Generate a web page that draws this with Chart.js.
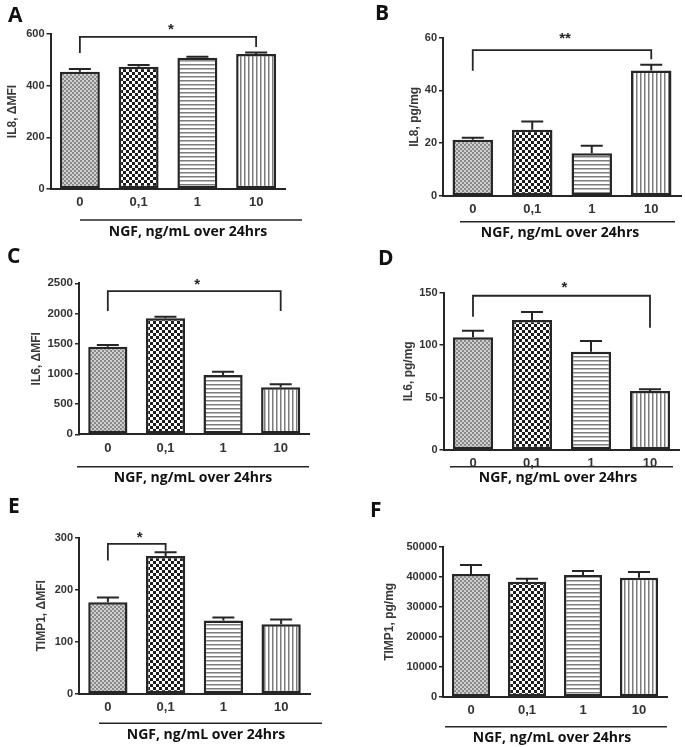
<!DOCTYPE html>
<html>
<head>
<meta charset="utf-8">
<script src="https://cdn.jsdelivr.net/npm/chart.js@4.4.1/dist/chart.umd.min.js"></script>
<style>
  body { margin: 0; background: #fff; }
  #wrap { position: relative; width: 685px; height: 747px; }
  #wrap canvas { position: absolute; left: 0; top: 0; }
</style>
</head>
<body>
<div id="wrap"></div>
<script>
// NGF doses (x categories)
const doses = ["0", "0,1", "1", "10"];

// bar means and SEM (upper error only)
const il8Mfi = [454, 473, 508, 523];
const il8MfiErr = [11, 7, 4, 5];
const il8Pg = [21.3, 25.1, 16.2, 47.6];
const il8PgErr = [0.8, 3.1, 2.8, 2.1];
const il6Mfi = [1450, 1921, 982, 778];
const il6MfiErr = [28, 26, 55, 50];
const il6Pg = [107.5, 124, 93.7, 56.3];
const il6PgErr = [6.3, 7.6, 10.3, 1.7];
const timpMfi = [176, 265, 141, 134];
const timpMfiErr = [9, 7, 6, 9];
const timpPg = [40900, 38350, 40580, 39690];
const timpPgErr = [3000, 1000, 1300, 1900];

// y axis tick maxima / steps
const yMax = { A: 600, B: 60, C: 2500, D: 150, E: 300, F: 50000 };
const yStep = { A: 200, B: 20, C: 500, D: 50, E: 100, F: 10000 };

const W = 685, H = 747;
const ink = "#262626";

function makePattern(kind) {
  const c = document.createElement("canvas");
  const g = c.getContext("2d");
  c.width = kind === "check" ? 6 : 4;
  c.height = c.width;
  g.fillStyle = "#fff";
  g.fillRect(0, 0, c.width, c.height);
  if (kind === "stipple") {
    g.fillStyle = "#cfcfcf";
    g.fillRect(0, 0, 4, 4);
    g.fillStyle = "#888";
    g.fillRect(0, 0, 2, 2);
    g.fillRect(2, 2, 2, 2);
  } else if (kind === "check") {
    g.fillStyle = "#1c1c1c";
    g.fillRect(0, 0, 3, 3);
    g.fillRect(3, 3, 3, 3);
  } else if (kind === "hlines") {
    g.fillStyle = "#7c7c7c";
    g.fillRect(0, 0, 4, 1);
    g.fillStyle = "#bdbdbd";
    g.fillRect(0, 1, 4, 1);
  } else {
    g.fillStyle = "#7c7c7c";
    g.fillRect(0, 0, 1, 4);
    g.fillStyle = "#bdbdbd";
    g.fillRect(1, 0, 1, 4);
  }
  return g.createPattern(c, "repeat");
}
const fills = [makePattern("stipple"), makePattern("check"), makePattern("hlines"), makePattern("vlines")];

const panels = [
  { id: "A", values: il8Mfi, errors: il8MfiErr, title: "IL8, \u0394MFI", tickSize: 11,
    area: { l: 50.5, r: 285.5, t: 34, b: 189 }, titleGap: 37, letter: { x: 8, y: 22 },
    bracket: { from: 0, to: 3, top: 589, left: 526, right: 550, mark: "*", gap: 11 },
    ngf: { x1: 80, x2: 302, y: 220, cx: 188 } },
  { id: "B", values: il8Pg, errors: il8PgErr, title: "IL8, pg/mg", tickSize: 11,
    area: { l: 443, r: 681, t: 37.7, b: 196 }, titleGap: 28, letter: { x: 375, y: 20 },
    bracket: { from: 0, to: 3, top: 55.3, left: 47.5, right: 51.8, mark: "**", gap: 15 },
    ngf: { x1: 460, x2: 675, y: 221.7, cx: 560 } },
  { id: "C", values: il6Mfi, errors: il6MfiErr, title: "IL6, \u0394MFI", tickSize: 11.5,
    area: { l: 79, r: 309.5, t: 283.3, b: 434.3 }, titleGap: 42, letter: { x: 7, y: 263 },
    bracket: { from: 0, to: 3, top: 2372, left: 2043, right: 2043, mark: "*", gap: 10 },
    ngf: { x1: 77, x2: 309, y: 466.7, cx: 193 } },
  { id: "D", values: il6Pg, errors: il6PgErr, title: "IL6, pg/mg", tickSize: 11,
    area: { l: 443.5, r: 679.5, t: 292.7, b: 450 }, titleGap: 34, letter: { x: 378, y: 265 },
    bracket: { from: 0, to: 3, top: 147.1, left: 127.1, right: 116.6, mark: "*", gap: 12 },
    ngf: { x1: 450, x2: 673, y: 466.7, cx: 558 } },
  { id: "E", values: timpMfi, errors: timpMfiErr, title: "TIMP1, \u0394MFI", tickSize: 11,
    area: { l: 79, r: 310, t: 537.7, b: 694 }, titleGap: 37, letter: { x: 8, y: 513 },
    bracket: { from: 0, to: 1, top: 288, left: 256, right: 275, mark: "*", gap: 10 },
    ngf: { x1: 99, x2: 322, y: 723.3, cx: 206 } },
  { id: "F", values: timpPg, errors: timpPgErr, title: "TIMP1, pg/mg", tickSize: 11,
    area: { l: 443, r: 667, t: 546.7, b: 697 }, titleGap: 53, letter: { x: 370, y: 517 },
    bracket: null,
    ngf: { x1: 445, x2: 667, y: 726.7, cx: 552 } }
];

// error caps, significance bracket, panel letter and x-axis caption
function extras(p) {
  return {
    id: "extras" + p.id,
    afterDatasetsDraw(chart) {
      const ctx = chart.ctx, ys = chart.scales.y;
      ctx.save();
      ctx.strokeStyle = ink;
      ctx.lineWidth = 2;
      chart.getDatasetMeta(0).data.forEach((bar, i) => {
        const top = ys.getPixelForValue(p.values[i] + p.errors[i]);
        ctx.beginPath();
        ctx.moveTo(bar.x, bar.y);
        ctx.lineTo(bar.x, top);
        ctx.moveTo(bar.x - 11, top);
        ctx.lineTo(bar.x + 11, top);
        ctx.stroke();
      });
      ctx.restore();
    },
    afterDraw(chart) {
      const ctx = chart.ctx, xs = chart.scales.x, ys = chart.scales.y;
      ctx.save();
      ctx.strokeStyle = ink;
      ctx.fillStyle = ink;
      const b = p.bracket;
      if (b) {
        const x1 = xs.getPixelForValue(b.from), x2 = xs.getPixelForValue(b.to);
        const yt = ys.getPixelForValue(b.top);
        ctx.lineWidth = 1.8;
        ctx.beginPath();
        ctx.moveTo(x1, ys.getPixelForValue(b.left));
        ctx.lineTo(x1, yt);
        ctx.lineTo(x2, yt);
        ctx.lineTo(x2, ys.getPixelForValue(b.right));
        ctx.stroke();
        ctx.font = "bold 15px 'Liberation Sans'";
        ctx.textAlign = "center";
        ctx.textBaseline = "alphabetic";
        ctx.fillText(b.mark, (x1 + x2) / 2 + 3, yt - b.gap + 8);
      }
      ctx.fillStyle = "#111";
      ctx.textAlign = "left";
      ctx.font = "bold 21px 'Open Sans'";
      ctx.fillText(p.id, p.letter.x, p.letter.y);
      ctx.lineWidth = 1.6;
      ctx.beginPath();
      ctx.moveTo(p.ngf.x1, p.ngf.y);
      ctx.lineTo(p.ngf.x2, p.ngf.y);
      ctx.stroke();
      ctx.textAlign = "center";
      ctx.font = "bold 14px 'Open Sans'";
      ctx.fillText("NGF, ng/mL over 24hrs", p.ngf.cx, p.ngf.y + 15.5);
      ctx.restore();
    }
  };
}

const wrap = document.getElementById("wrap");
panels.forEach(p => {
  const cv = document.createElement("canvas");
  cv.width = W;
  cv.height = H;
  wrap.appendChild(cv);
  const yW = p.titleGap + 11;
  const xH = 22;
  new Chart(cv, {
    type: "bar",
    data: {
      labels: doses,
      datasets: [{
        data: p.values,
        backgroundColor: fills,
        borderColor: ink,
        borderWidth: 2.5,
        borderSkipped: false,
        barPercentage: 0.68,
        categoryPercentage: 1
      }]
    },
    options: {
      responsive: false,
      animation: false,
      events: [],
      layout: { padding: { left: p.area.l - yW, top: p.area.t, right: W - p.area.r, bottom: H - p.area.b - xH } },
      plugins: { legend: { display: false }, tooltip: { enabled: false } },
      scales: {
        x: {
          grid: { display: false, drawTicks: false },
          border: { display: true, color: ink, width: 2 },
          ticks: { padding: 6, color: "#333", font: { family: "'Liberation Sans'", weight: "bold", size: 13 } },
          afterFit(s) { s.height = xH; }
        },
        y: {
          min: 0,
          max: yMax[p.id],
          ticks: { stepSize: yStep[p.id], padding: 2, color: "#333",
            font: { family: "'Liberation Sans'", weight: "bold", size: p.tickSize },
            callback: v => String(v) },
          grid: { drawOnChartArea: false, drawTicks: true, tickLength: 4, color: ink, lineWidth: 1.5 },
          border: { display: true, color: ink, width: 2 },
          title: { display: true, text: p.title, color: "#3a3a3a", padding: { top: 3, bottom: 0 },
            font: { family: "'Liberation Sans'", weight: "bold", size: 12 } },
          afterFit(s) { s.width = yW; }
        }
      }
    },
    plugins: [extras(p)]
  });
});
</script>
</body>
</html>
